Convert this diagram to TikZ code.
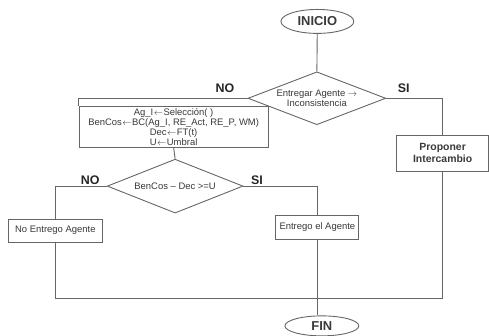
\documentclass[tikz,border=0pt]{standalone}
\usepackage{fontspec}
\setmainfont{Liberation Sans}
\usetikzlibrary{shapes.geometric}
\definecolor{ln}{HTML}{666666}
\definecolor{tx}{HTML}{3a3a3a}
\newcommand{\myla}{\kern0.5pt$\leftarrow$\kern0.5pt}
\begin{document}
\begin{tikzpicture}[x=1bp,y=-1bp,
  line width=0.9bp,
  every path/.style={draw=ln},
  term/.style={ellipse,draw=ln,line width=0.9bp,minimum width=73bp,minimum height=24bp,inner sep=0pt,text=tx,font=\bfseries\fontsize{13}{14}\selectfont},
  dec/.style={diamond,draw=ln,line width=0.9bp,aspect=2.6,inner sep=0pt,text=tx,align=center,font=\fontsize{9.5}{10}\selectfont},
  proc/.style={rectangle,draw=ln,line width=0.9bp,inner sep=0pt,text=tx,align=center,font=\fontsize{9.5}{10}\selectfont},
  lbl/.style={text=black!85,font=\bfseries\fontsize{12.5}{13}\selectfont,inner sep=0pt}]
\useasboundingbox (0,0) rectangle (489,335);
\fill[white] (0,0) rectangle (489,335);
\node[term] (ini) at (317.5,21) {INICIO};
\node[dec,minimum width=138bp,minimum height=53bp] (d1) at (317,98) {Entregar Agente $\rightarrow$\\Inconsistencia};
\node[proc,minimum width=189bp,minimum height=41bp] (b1) at (173.5,126.5) {Ag\_I\myla Selección( )\\BenCos\myla BC(Ag\_I, RE\_Act, RE\_P, WM)\\Dec\myla FT(t)\\U\myla Umbral};
\node[dec,minimum width=136bp,minimum height=54bp] (d2) at (175,186) {BenCos – Dec >=U};
\node[proc,minimum width=94bp,minimum height=23bp] (b2) at (55,230.5) {No Entrego Agente};
\node[proc,minimum width=83bp,minimum height=24bp] (b3) at (317.5,227) {Entrego el Agente};
\node[proc,minimum width=92bp,minimum height=36bp,font=\bfseries\fontsize{10.5}{12}\selectfont] (b4) at (443,153) {Proponer\\Intercambio};
\node[term,minimum width=74bp,minimum height=20bp] (fin) at (322,326) {FIN};
\coordinate (j) at (318,299);
\node[lbl] at (225,88) {NO};
\node[lbl] at (404,88) {SI};
\node[lbl] at (90,180) {NO};
\node[lbl] at (257,180) {SI};
\draw (ini) -- (d1.north);
\draw (d1.west) -| (b1.north west);
\draw (d1.east) -| (b4.north);
\draw (b1.south) -- (d2.north);
\draw (d2.west) -| (b2.north);
\draw (d2.east) -| (b3.north);
\draw (b2.south) |- (j);
\draw (b4.south) |- (j);
\draw (b3.south) -- (b3.south |- fin.north);
\end{tikzpicture}
\end{document}
